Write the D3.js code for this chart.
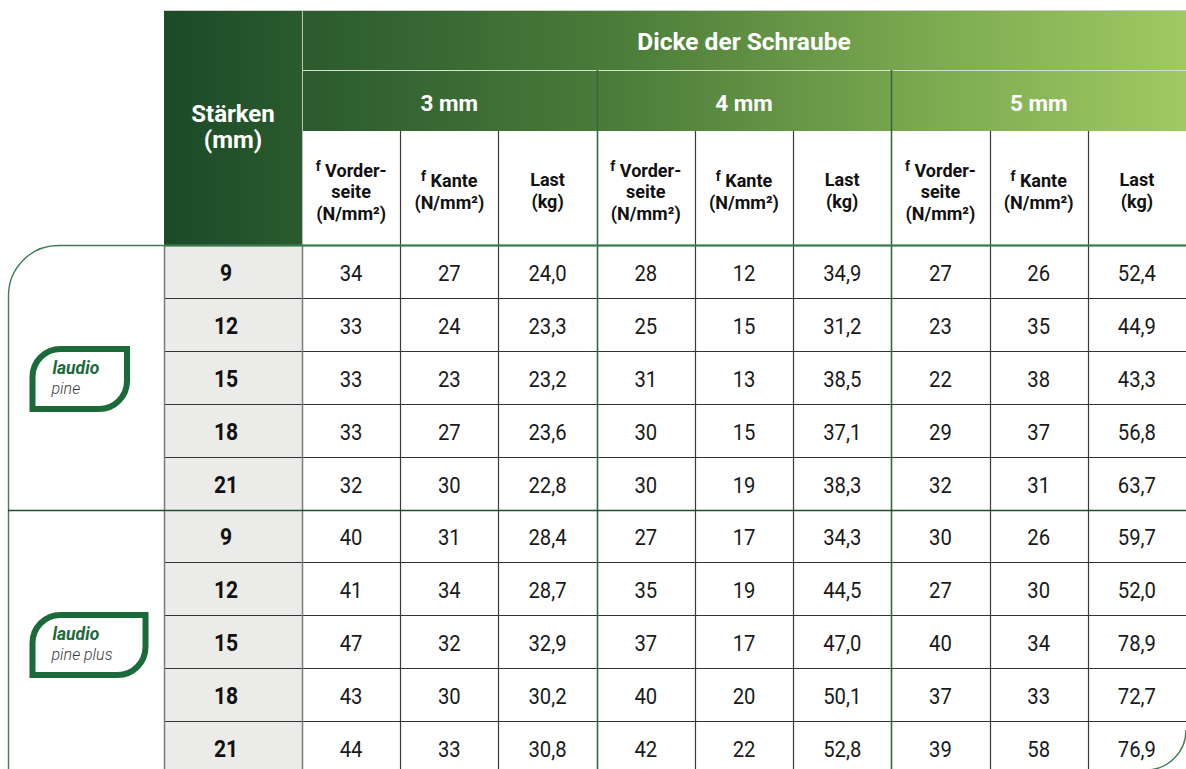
<!DOCTYPE html>
<html><head><meta charset="utf-8">
<script src="https://cdn.jsdelivr.net/npm/d3@7"></script>
<style>html,body{margin:0;padding:0;background:#fff;overflow:hidden}svg{display:block;font-family:Roboto,"Noto Sans",sans-serif}</style>
</head><body><svg id="c" width="1186" height="769"></svg>
<script>
// ---- data ----
const thickness = ["9","12","15","18","21"];
const products = [["laudio","pine"],["laudio","pine plus"]];
const screwSizes = ["3 mm","4 mm","5 mm"];
const topHeader = "Dicke der Schraube";
const rowHeader = ["Stärken","(mm)"];
// per screw size: front (f Vorderseite), edge (f Kante), load (Last)
const pineFront3 = [34,33,33,33,32], pineEdge3 = [27,24,23,27,30], pineLoad3 = [24.0,23.3,23.2,23.6,22.8];
const pineFront4 = [28,25,31,30,30], pineEdge4 = [12,15,13,15,19], pineLoad4 = [34.9,31.2,38.5,37.1,38.3];
const pineFront5 = [27,23,22,29,32], pineEdge5 = [26,35,38,37,31], pineLoad5 = [52.4,44.9,43.3,56.8,63.7];
const plusFront3 = [40,41,47,43,44], plusEdge3 = [31,34,32,30,33], plusLoad3 = [28.4,28.7,32.9,30.2,30.8];
const plusFront4 = [27,35,37,40,42], plusEdge4 = [17,19,17,20,22], plusLoad4 = [34.3,44.5,47.0,50.1,52.8];
const plusFront5 = [30,27,40,37,39], plusEdge5 = [26,30,34,33,58], plusLoad5 = [59.7,52.0,78.9,72.7,76.9];

// ---- build table ----
const pineCols = [pineFront3,pineEdge3,pineLoad3,pineFront4,pineEdge4,pineLoad4,pineFront5,pineEdge5,pineLoad5];
const plusCols = [plusFront3,plusEdge3,plusLoad3,plusFront4,plusEdge4,plusLoad4,plusFront5,plusEdge5,plusLoad5];
const fmtLoad = v => d3.format(".1f")(v).replace(".", ",");
const rows = [];
[pineCols, plusCols].forEach((cols, p) => {
  thickness.forEach((t, i) => {
    rows.push({thick: t, product: p, vals: cols.map((c, j) => (j % 3 === 2) ? fmtLoad(c[i]) : String(c[i]))});
  });
});

const svg = d3.select("#c");
const W = 1186;
const xL = 164, xM = 302;
const yTop = 10, yH1 = 70, yH2 = 131, yH3 = 245;
const x = d3.scaleBand().domain(d3.range(9)).range([xM, W]);
const y = d3.scaleBand().domain(d3.range(rows.length)).range([yH3, yH3 + 52.9 * rows.length]);
const xg = d3.scaleBand().domain(screwSizes).range([xM, W]);

const defs = svg.append("defs");
const grad = defs.append("linearGradient").attr("id","hg").attr("gradientUnits","userSpaceOnUse")
  .attr("x1", xL).attr("x2", W).attr("y1", 0).attr("y2", 0);
[[0,"#1b4a27"],[0.14,"#2b5b2e"],[0.45,"#4c7d3a"],[0.75,"#7caa50"],[1,"#a0c962"]].forEach(s =>
  grad.append("stop").attr("offset", s[0]).attr("stop-color", s[1]));

// header backgrounds
svg.append("rect").attr("x", xL).attr("y", yTop).attr("width", W - xL).attr("height", yH2 - yTop).attr("fill","url(#hg)");
svg.append("rect").attr("x", xL).attr("y", yH2).attr("width", xM - xL).attr("height", yH3 - yH2).attr("fill","url(#hg)");
svg.append("rect").attr("x", xM).attr("y", yH2).attr("width", W - xM).attr("height", yH3 - yH2).attr("fill","#fff");
// header lines
svg.append("line").attr("x1", xL).attr("x2", W).attr("y1", yTop + 0.5).attr("y2", yTop + 0.5).attr("stroke","#c9cfc6").attr("stroke-width",1);
svg.append("line").attr("x1", xM).attr("x2", W).attr("y1", yH1 + 0.5).attr("y2", yH1 + 0.5).attr("stroke","#d7e0cf").attr("stroke-width",1.2);
svg.append("line").attr("x1", xM + 0.5).attr("x2", xM + 0.5).attr("y1", yTop).attr("y2", yH3).attr("stroke","#b9c4b5").attr("stroke-width",1);

// stärken column background
svg.append("rect").attr("x", xL).attr("y", yH3).attr("width", xM - xL).attr("height", 769 - yH3).attr("fill","#ebecea");

// top header text
svg.append("text").attr("x", xM + (W - xM) / 2).attr("y", 50).attr("text-anchor","middle")
  .attr("fill","#fff").attr("font-weight",700).attr("font-size",24.5).text(topHeader);
svg.selectAll(".gh").data(screwSizes).join("text").attr("x", d => xg(d) + xg.bandwidth() / 2).attr("y", 111)
  .attr("text-anchor","middle").attr("fill","#fff").attr("font-weight",700).attr("font-size",22.5).text(d => d);
rowHeader.forEach((t, i) => svg.append("text").attr("x", (xL + xM) / 2).attr("y", 122 + i * 26)
  .attr("text-anchor","middle").attr("fill","#fff").attr("font-weight",700).attr("font-size",24).text(t));

// sub headers
const sub = svg.append("g").attr("font-weight",700).attr("font-size",18).attr("fill","#111").attr("text-anchor","middle");
d3.range(9).forEach(j => {
  const cx = x(j) + x.bandwidth() / 2;
  const k = j % 3;
  if (k === 0) {
    const t = sub.append("text").attr("x", cx).attr("y", 177);
    t.append("tspan").attr("font-size",14).attr("dy",-6).text("f");
    t.append("tspan").attr("dy",6).text(" Vorder-");
    sub.append("text").attr("x", cx).attr("y", 198).text("seite");
    sub.append("text").attr("x", cx).attr("y", 220).text("(N/mm²)");
  } else if (k === 1) {
    const t = sub.append("text").attr("x", cx).attr("y", 187);
    t.append("tspan").attr("font-size",14).attr("dy",-6).text("f");
    t.append("tspan").attr("dy",6).text(" Kante");
    sub.append("text").attr("x", cx).attr("y", 209).text("(N/mm²)");
  } else {
    sub.append("text").attr("x", cx).attr("y", 186).text("Last");
    sub.append("text").attr("x", cx).attr("y", 208).text("(kg)");
  }
});

// data text (slightly condensed to mimic the narrow typeface)
const body = svg.append("g");
rows.forEach((r, i) => {
  const cy = y(i) + y.bandwidth() / 2 + 9.5;
  body.append("text").attr("transform", `translate(226,${cy}) scale(0.88,1)`).attr("text-anchor","middle")
    .attr("font-weight",700).attr("font-size",24).attr("fill","#111").text(r.thick);
  r.vals.forEach((v, j) => body.append("text")
    .attr("transform", `translate(${x(j) + x.bandwidth() / 2},${cy}) scale(0.9,1)`)
    .attr("text-anchor","middle").attr("font-size",22.5).attr("fill","#1a1a1a").text(v));
});

// grid lines: rows
d3.range(1, rows.length).forEach(i => {
  if (i === 5) return;
  svg.append("line").attr("x1", xL).attr("x2", W).attr("y1", Math.round(y(i)) + 0.5).attr("y2", Math.round(y(i)) + 0.5)
    .attr("stroke","#333").attr("stroke-width",1.2);
});
// sub column lines
d3.range(1, 9).forEach(j => {
  const green = j % 3 === 0;
  svg.append("line").attr("x1", Math.round(x(j)) + 0.5).attr("x2", Math.round(x(j)) + 0.5)
    .attr("y1", green ? yH1 : yH2).attr("y2", 769)
    .attr("stroke", green ? "#2f6a3e" : "#3a3a3a").attr("stroke-width", green ? 1.6 : 1.2);
});
// stärken column borders
[xL, xM].forEach(xx => svg.append("line").attr("x1", xx + 0.5).attr("x2", xx + 0.5).attr("y1", yH3).attr("y2", 769)
  .attr("stroke","#7a7a7a").attr("stroke-width",1.5));

// product frame
svg.append("path").attr("fill","none").attr("stroke","#3f7d55").attr("stroke-width",1.4)
  .attr("d", (() => {
    const x0 = 8.5, y0 = yH3 + 0.5, r1 = 50, x1 = 1187, y1 = 770, r2 = 40;
    return `M${x1},${y0} L${x0 + r1},${y0} A${r1},${r1} 0 0 0 ${x0},${y0 + r1} L${x0},${y1 + 10}`
      + ` M${x1 - r2 - 1},${y1} A${r2},${r2} 0 0 0 ${x1 - 1},${y1 - r2}`;
  })());
// header bottom line
svg.append("line").attr("x1", xL).attr("x2", W).attr("y1", yH3 + 0.5).attr("y2", yH3 + 0.5).attr("stroke","#3a7a50").attr("stroke-width",2.2);
// product separator
svg.append("line").attr("x1", 8).attr("x2", W).attr("y1", Math.round(y(5)) + 0.5).attr("y2", Math.round(y(5)) + 0.5)
  .attr("stroke","#1f4d30").attr("stroke-width",1.6);

// logos
function logo(p, bx, by, bw, bh) {
  const g = svg.append("g");
  const r = 28;
  g.append("path").attr("fill","none").attr("stroke","#1b6a39").attr("stroke-width",6)
    .attr("d", `M${bx},${by + bh} L${bx},${by + r} A${r},${r} 0 0 1 ${bx + r},${by} L${bx + bw},${by} L${bx + bw},${by + bh - r} A${r},${r} 0 0 1 ${bx + bw - r},${by + bh} Z`);
  g.append("text").attr("x", bx + 20).attr("y", by + 25).attr("fill","#1b6a39").attr("font-weight",700)
    .attr("font-style","italic").attr("font-size",17.5).text(p[0]);
  g.append("text").attr("x", bx + 19).attr("y", by + 45).attr("fill","#3a3a3a").attr("font-weight",300)
    .attr("font-style","italic").attr("font-size",16).text(p[1]);
}
logo(products[0], 32.5, 349, 94.5, 60);
logo(products[1], 32.5, 615, 113, 60);
</script></body></html>
